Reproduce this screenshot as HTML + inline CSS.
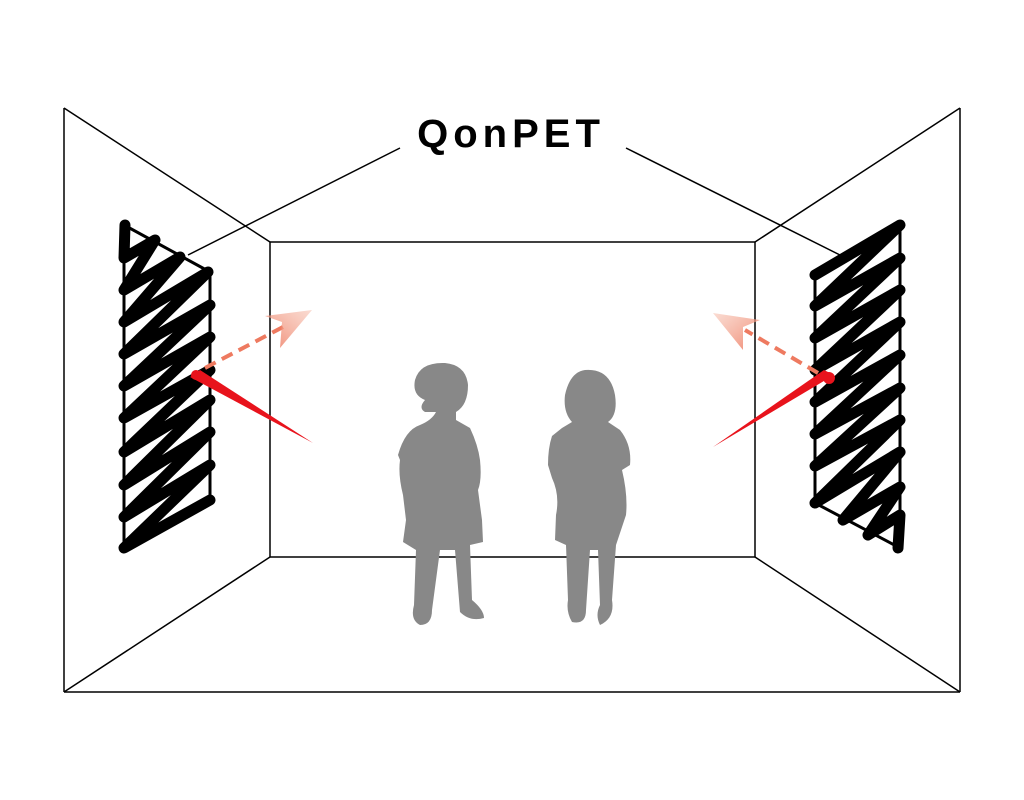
<!DOCTYPE html>
<html><head><meta charset="utf-8"><style>html,body{margin:0;padding:0;background:#fff}svg{display:block}</style></head><body>
<svg width="1024" height="800" viewBox="0 0 1024 800" xmlns="http://www.w3.org/2000/svg">
<defs>
<linearGradient id="gl" x1="0" y1="1" x2="1" y2="0"><stop offset="0" stop-color="#ee7a60" stop-opacity="0.9"/><stop offset="1" stop-color="#f5b8a5" stop-opacity="0.5"/></linearGradient>
<linearGradient id="gr" x1="1" y1="1" x2="0" y2="0"><stop offset="0" stop-color="#ee7a60" stop-opacity="0.9"/><stop offset="1" stop-color="#f5b8a5" stop-opacity="0.5"/></linearGradient>
</defs>
<g stroke="#000" stroke-width="1.5" fill="none">
<line x1="64" y1="108" x2="64" y2="692"/><line x1="960" y1="108" x2="960" y2="692"/><line x1="64" y1="692" x2="960" y2="692"/>
<line x1="64" y1="108" x2="270" y2="242"/><line x1="960" y1="108" x2="755" y2="242"/>
<line x1="64" y1="692" x2="270" y2="557"/><line x1="960" y1="692" x2="755" y2="557"/>
<rect x="270" y="242" width="485" height="315"/>
<line x1="400" y1="148" x2="188" y2="255"/><line x1="626" y1="148" x2="840" y2="255"/>
</g>
<text x="511" y="147" font-family="Liberation Sans, sans-serif" font-size="40" font-weight="bold" letter-spacing="5" text-anchor="middle">QonPET</text>
<g stroke="#000" fill="none" stroke-linejoin="round" stroke-linecap="round">
<polygon points="124,225 210,272 210,500 124,550" stroke-width="3"/>
<polyline stroke-width="11" points="125,225 124,258 155,240 124,290 180,257 124,322 208,272 124,354 210,305 124,386 210,337 124,418 210,370 124,452 210,400 124,485 210,432 124,517 210,465 124,548 210,500"/>
</g>
<g stroke="#000" fill="none" stroke-linejoin="round" stroke-linecap="round">
<polygon points="815,275 900,225 900,548 815,503" stroke-width="3"/>
<polyline stroke-width="11" points="815,275 900,225 815,306 900,258 815,338 900,290 815,370 900,322 815,402 900,355 815,434 900,388 815,466 900,420 815,503 900,452 843,520 900,487 868,535 900,515 898,548"/>
</g>
<polygon points="190,377 200,370 313,443" fill="#e8131c"/>
<circle cx="196" cy="375" r="5" fill="#e8131c"/>
<line x1="205" y1="368" x2="283" y2="327" stroke="#ee7a60" stroke-width="4" stroke-dasharray="12,7"/>
<polygon points="312,310 265,316 282,322 280,348" fill="url(#gl)"/>
<polygon points="834,375 824,370 713,447" fill="#e8131c"/>
<circle cx="829" cy="378" r="6" fill="#e8131c"/>
<line x1="818" y1="373" x2="745" y2="330" stroke="#ee7a60" stroke-width="4" stroke-dasharray="12,7"/>
<polygon points="713,313 760,320 743,327 743,350" fill="url(#gr)"/>
<g fill="#888">
<path d="M415,380 Q420,362 445,363 Q466,365 468,385 Q468,405 456,412 L456,420 L470,428 Q478,445 480,460 Q482,480 478,490 L482,520 L483,542 L470,545 L472,600 Q484,610 484,618 Q470,622 460,612 L455,550 L440,550 L432,610 Q432,625 420,625 Q410,620 414,605 L416,550 L403,542 L406,520 L403,495 Q398,475 400,460 L398,455 Q405,430 420,425 Q432,420 436,412 L425,412 Q418,408 425,400 Q412,395 415,380Z"/>
<path d="M585,370 Q610,368 615,395 Q618,415 608,422 L620,430 Q632,445 630,465 L622,470 Q628,495 626,515 L616,545 L612,600 Q615,618 600,625 Q595,615 600,605 L598,550 L590,550 L586,610 Q586,625 572,622 Q566,612 568,600 L566,545 L555,540 L556,515 Q560,495 552,478 L548,465 Q548,448 552,436 L562,428 L572,422 Q563,412 565,395 Q570,372 585,370Z"/>
</g>
</svg>
</body></html>
